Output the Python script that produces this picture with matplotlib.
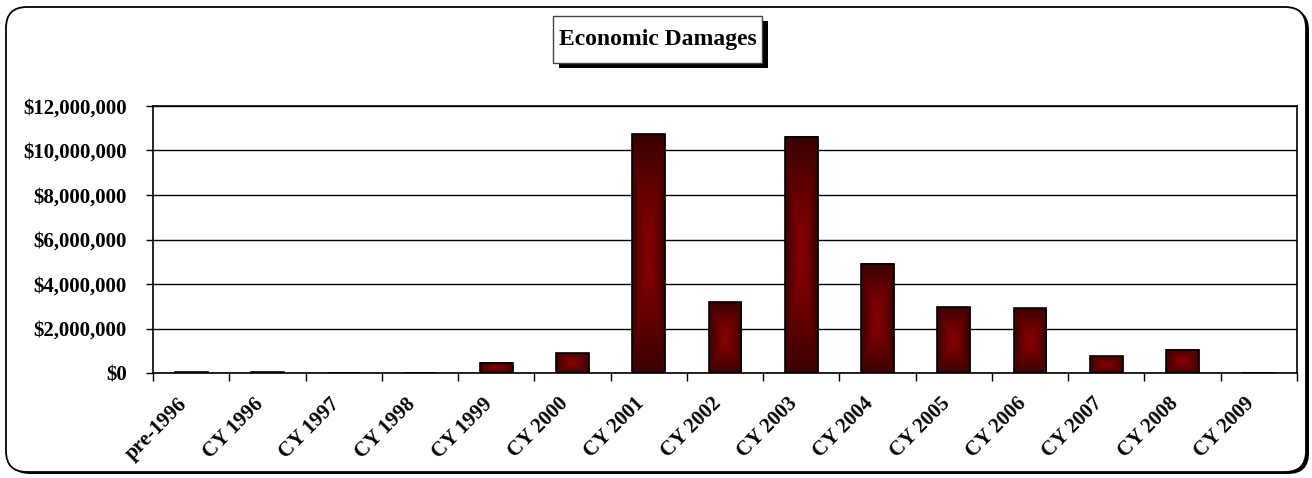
import numpy as np
import matplotlib.pyplot as plt
import matplotlib.transforms as mtransforms
from matplotlib.patches import FancyBboxPatch, Rectangle
from matplotlib.ticker import FuncFormatter
from matplotlib.colors import LinearSegmentedColormap

# data
years = ['pre-1996', 'CY 1996', 'CY 1997', 'CY 1998', 'CY 1999', 'CY 2000', 'CY 2001',
         'CY 2002', 'CY 2003', 'CY 2004', 'CY 2005', 'CY 2006', 'CY 2007', 'CY 2008', 'CY 2009']
damages = [30000, 30000, 0, 0, 470000, 890000, 10740000,
           3190000, 10620000, 4900000, 2950000, 2910000, 760000, 1050000, 0]

plt.rcParams['font.family'] = ['Liberation Serif', 'DejaVu Serif']
plt.rcParams['font.weight'] = 'bold'

fig = plt.figure(figsize=(13.12, 4.78), dpi=100)
W, H = 1312.0, 478.0

# rounded outer frame with shadow
shadow = FancyBboxPatch((9 / W, 4 / H), 1300 / W, 465 / H,
                        boxstyle='round,pad=0,rounding_size=0.016', transform=fig.transFigure,
                        facecolor='black', edgecolor='black', lw=0, zorder=0,
                        mutation_aspect=W / H)
fig.patches.append(shadow)
frame = FancyBboxPatch((6 / W, 6 / H), 1300 / W, 465 / H,
                       boxstyle='round,pad=0,rounding_size=0.016', transform=fig.transFigure,
                       facecolor='white', edgecolor='black', lw=1.3, zorder=1,
                       mutation_aspect=W / H)
fig.patches.append(frame)

ax = fig.add_axes([153 / W, 105 / H, 1144 / W, 267 / H])
ax.set_facecolor('none')
ax.set_zorder(2)

x = np.arange(len(years))
bars = ax.bar(x, damages, width=0.43, color='none', edgecolor='black', lw=1.2, zorder=3)

# gradient fill, dark edges to red center
cmap = LinearSegmentedColormap.from_list('dmg', ['#860000', '#3a0000'])
gu = np.linspace(-1, 1, 60)
U, V = np.meshgrid(gu, gu)
grad = np.maximum(np.abs(U), np.abs(V)) ** 1.3
for b in bars:
    h = b.get_height()
    if h <= 0:
        continue
    x0 = b.get_x()
    w = b.get_width()
    ax.imshow(grad, cmap=cmap, extent=[x0, x0 + w, 0, h], aspect='auto',
              interpolation='bilinear', zorder=2, vmin=0, vmax=1)
    ax.add_patch(Rectangle((x0 + 0.012, 0), w, h, facecolor='#9a9a9a', lw=0, zorder=1.5))

ax.set_xlim(-0.5, len(years) - 0.5)
ax.set_ylim(0, 12000000)
ax.set_yticks(np.arange(0, 12000001, 2000000))
ax.yaxis.set_major_formatter(FuncFormatter(lambda v, p: '${:,.0f}'.format(v)))
ax.grid(axis='y', color='black', lw=1.0, zorder=1)
ax.set_axisbelow(True)

# category boundaries carry the tick marks, labels drawn at the centres
ax.set_xticks(np.arange(len(years) + 1) - 0.5)
ax.set_xticklabels([])
ax.tick_params(axis='x', length=6, width=1, direction='out')
ax.tick_params(axis='y', length=5, width=1, direction='out', labelsize=15, pad=14)
for lab in ax.get_yticklabels():
    lab.set_fontweight('bold')

lab_tr = ax.get_xaxis_transform() + mtransforms.ScaledTranslation(-7 / 100, -28 / 100,
                                                                   fig.dpi_scale_trans)
for i, name in enumerate(years):
    ax.text(i, 0, name, transform=lab_tr, rotation=45, ha='right', va='center',
            rotation_mode='anchor', fontsize=15, fontweight='bold', clip_on=False)

for s in ax.spines.values():
    s.set_linewidth(1.2)
    s.set_color('black')

# title box with shadow
fig.patches.append(Rectangle((559 / W, 410 / H), 209 / W, 47 / H,
                             transform=fig.transFigure, facecolor='black', lw=0, zorder=3))
fig.patches.append(Rectangle((553 / W, 415 / H), 209 / W, 47 / H,
                             transform=fig.transFigure, facecolor='white', edgecolor='#444444',
                             lw=1, zorder=4))
fig.text(657.5 / W, 438 / H, 'Economic Damages', ha='center', va='center',
         fontsize=17, fontweight='bold', zorder=5)

fig.savefig('out.png', dpi=100)
